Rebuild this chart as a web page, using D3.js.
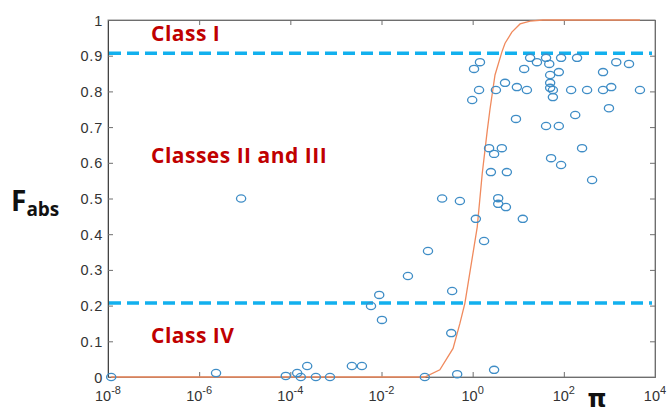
<!DOCTYPE html>
<html><head><meta charset="utf-8">
<script src="https://cdn.jsdelivr.net/npm/d3@7"></script>
<style>html,body{margin:0;padding:0;background:#fff;}svg{display:block;}</style>
</head><body>
<svg id="chart" width="670" height="414"></svg>
<script>
// ---- data ----
const xTickExponents = [-8, -6, -4, -2, 0, 2, 4];
const yTickValues = [0, 0.1, 0.2, 0.3, 0.4, 0.5, 0.6, 0.7, 0.8, 0.9, 1];
const yTickLabels = ["0", "0.1", "0.2", "0.3", "0.4", "0.5", "0.6", "0.7", "0.8", "0.9", "1"];

// observed points: log10(pi) and F_abs
const pointLog10Pi = [-7.93, -5.63, -5.08, -4.10, -3.85, -3.77, -3.63, -3.44, -3.13, -2.65, -2.43,
  -2.23, -2.05, -1.99, -1.42, -0.98, -1.05, -0.67, -0.45, -0.47, -0.34, -0.28, 0.07, 0.25, 0.47,
  0.36, 0.64, 0.47, 0.40, 0.75, 0.56, 0.56, 0.73, 1.10, 0.16, 0.03, 0.14, 0.51, -0.01, 0.71,
  0.97, 1.19, 1.13, 1.26, 1.41, 1.61, 1.68, 1.94, 2.29, 1.89, 1.70, 1.70, 1.70, 1.76, 1.76,
  2.16, 2.51, 2.86, 3.04, 3.67, 2.86, 3.15, 3.43, 2.99, 2.25, 0.95, 1.61, 1.89, 2.40, 1.72,
  1.94, 2.62];
const pointF = [0.00, 0.011, 0.50, 0.003, 0.011, 0.0, 0.031, 0.0, 0.0, 0.031, 0.031,
  0.199, 0.230, 0.160, 0.283, 0.353, 0.0, 0.50, 0.241, 0.123, 0.008, 0.493, 0.443, 0.381, 0.020,
  0.641, 0.641, 0.625, 0.574, 0.574, 0.501, 0.485, 0.476, 0.443, 0.882, 0.863, 0.804, 0.804, 0.776, 0.824,
  0.812, 0.804, 0.863, 0.894, 0.882, 0.894, 0.877, 0.894, 0.894, 0.854, 0.846, 0.824, 0.810, 0.804, 0.784,
  0.804, 0.804, 0.804, 0.812, 0.804, 0.854, 0.882, 0.877, 0.753, 0.734, 0.723, 0.703, 0.703, 0.641, 0.613,
  0.594, 0.552];

// fitted curve, read point by point
const curveLog10Pi = [-7.93, -1.05, -0.72, -0.43, -0.28, -0.17, 0.10, 0.21, 0.32, 0.38, 0.49, 0.64, 0.71, 0.86, 1.04, 1.26, 1.54, 3.67];
const curveF = [0, 0, 0.02, 0.08, 0.15, 0.207, 0.42, 0.57, 0.69, 0.75, 0.846, 0.91, 0.935, 0.966, 0.989, 0.997, 1, 1];

// class thresholds and labels
const thresholdValues = [0.907, 0.207];
const classLabels = ["Class I", "Classes II and III", "Class IV"];
const classLabelBaselineF = [0.942, 0.60, 0.095];

// ---- drawing ----
(function () {
const svg = d3.select("#chart");
const mLeft = 108, mRight = 655, mTop = 20, mBottom = 377;
const x = d3.scaleLog().domain([1e-8, 1e4]).range([mLeft, mRight]);
const y = d3.scaleLinear().domain([0, 1]).range([mBottom, mTop]);
const axisColor = "#6e6e6e";

// frame
svg.append("rect").attr("x", mLeft).attr("y", mTop).attr("width", mRight - mLeft).attr("height", mBottom - mTop)
  .attr("fill", "none").attr("stroke", "#8c8c8c").attr("stroke-width", 1);

const xTicks = xTickExponents.map(e => Math.pow(10, e));
const ax = svg.append("g").attr("transform", `translate(0,${mBottom})`)
  .call(d3.axisTop(x).tickValues(xTicks).tickSize(5).tickFormat(""));
const axT = svg.append("g").attr("transform", `translate(0,${mTop})`)
  .call(d3.axisBottom(x).tickValues(xTicks).tickSize(5).tickFormat(""));
const ayL = svg.append("g").attr("transform", `translate(${mLeft},0)`)
  .call(d3.axisRight(y).tickValues(yTickValues).tickSize(5).tickFormat(""));
const ayR = svg.append("g").attr("transform", `translate(${mRight},0)`)
  .call(d3.axisLeft(y).tickValues(yTickValues).tickSize(5).tickFormat(""));
[ax, axT, ayL, ayR].forEach(g => {
  g.select(".domain").attr("stroke", axisColor);
  g.selectAll(".tick line").attr("stroke", axisColor);
});
ayL.select(".domain").attr("stroke", "#444");

// y tick labels
svg.append("g").selectAll("text").data(yTickValues).join("text")
  .attr("x", 103).attr("y", d => y(d) + 5.5)
  .attr("text-anchor", "end")
  .attr("font-family", "Liberation Sans, Arial, sans-serif").attr("font-size", 14.5)
  .attr("letter-spacing", 0.8)
  .attr("fill", "#333")
  .text((d, i) => yTickLabels[i]);

// x tick labels 10^e
const xl = svg.append("g").selectAll("text").data(xTickExponents).join("text")
  .attr("x", d => x(Math.pow(10, d))).attr("y", 401)
  .attr("text-anchor", "middle")
  .attr("font-family", "Liberation Sans, Arial, sans-serif").attr("font-size", 14.5)
  .attr("fill", "#333");
xl.append("tspan").text("10");
xl.append("tspan").attr("dy", -7).attr("font-size", 11).text(d => String(d));

// threshold dashed lines
svg.append("g").selectAll("line").data(thresholdValues).join("line")
  .attr("x1", mLeft + 1).attr("x2", mRight - 3)
  .attr("y1", d => y(d)).attr("y2", d => y(d))
  .attr("stroke", "#12b0ee").attr("stroke-width", 3.5)
  .attr("stroke-dasharray", "12,6");

// fitted curve
const line = d3.line().x(d => x(Math.pow(10, d[0]))).y(d => y(d[1]));
svg.append("path").datum(curveLog10Pi.map((v, i) => [v, curveF[i]]))
  .attr("d", line).attr("fill", "none").attr("stroke", "#f08a5d").attr("stroke-width", 1.3);

// points
svg.append("g").selectAll("ellipse").data(pointLog10Pi.map((v, i) => [v, pointF[i]])).join("ellipse")
  .attr("cx", d => x(Math.pow(10, d[0]))).attr("cy", d => y(d[1]))
  .attr("rx", 4.6).attr("ry", 3.6)
  .attr("fill", "none").attr("stroke", "#3f8dc6").attr("stroke-width", 1.3);

// class labels
svg.append("g").selectAll("text").data(classLabels).join("text")
  .attr("x", 151).attr("y", (d, i) => y(classLabelBaselineF[i]))
  .attr("font-family", "'Open Sans', Lato, sans-serif").attr("font-weight", "bold")
  .attr("font-size", 21).attr("letter-spacing", 0.5).attr("fill", "#c00000")
  .text(d => d);

// axis titles
const yt = svg.append("text").attr("x", 11).attr("y", 211)
  .attr("font-family", "'Open Sans', Lato, sans-serif").attr("font-weight", "bold").attr("fill", "#111");
yt.append("tspan").attr("font-size", 28).text("F");
yt.append("tspan").attr("font-size", 19).attr("dy", 5).text("abs");

svg.append("text").attr("x", 597).attr("y", 407).attr("text-anchor", "middle")
  .attr("font-family", "'DejaVu Sans', sans-serif").attr("font-weight", "bold")
  .attr("font-size", 24).attr("fill", "#111").text("π");
})();
</script>
</body></html>
